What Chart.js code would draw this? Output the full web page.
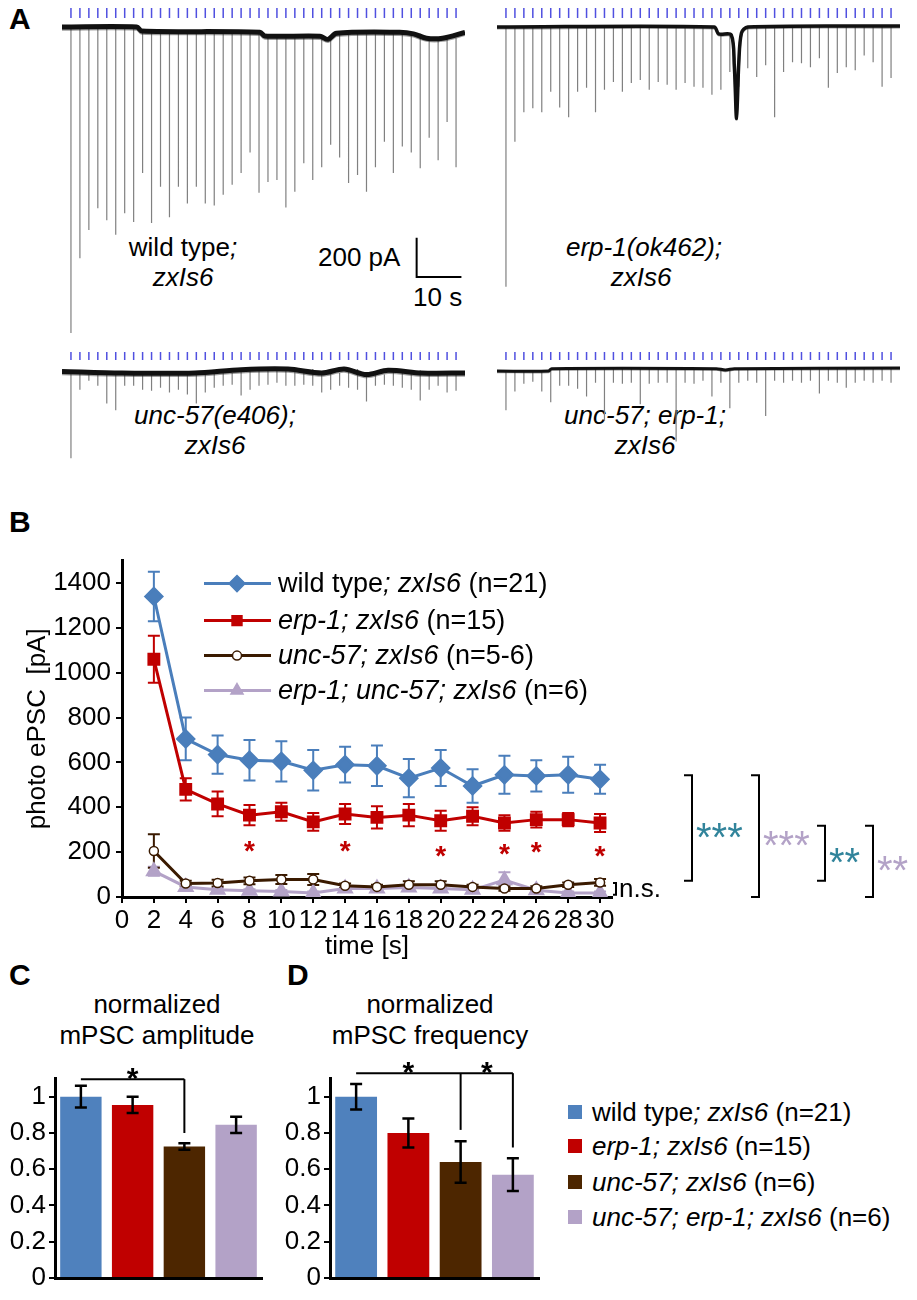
<!DOCTYPE html>
<html>
<head>
<meta charset="utf-8">
<script src="https://cdn.jsdelivr.net/npm/chart.js@4.4.1/dist/chart.umd.min.js"></script>
<style>
body{margin:0;background:#fff;}
#fig{position:relative;width:917px;height:1300px;overflow:hidden;background:#fff;
  font-family:"Liberation Sans",Arial,sans-serif;color:#000;}
canvas{position:absolute;}
.t{position:absolute;font-size:26px;line-height:30px;white-space:nowrap;}
.c{text-align:center;}
.p{position:absolute;font-weight:bold;font-size:30px;line-height:30px;}
.sq{position:absolute;width:14px;height:14px;}
</style>
</head>
<body>
<div id="fig">
  <div class="p" style="left:9px;top:4px">A</div>
  <div class="p" style="left:9px;top:507px">B</div>
  <div class="p" style="left:9px;top:960px">C</div>
  <div class="p" style="left:287px;top:960px">D</div>

  <div class="t c" style="left:108px;top:232px;width:150px">wild type<i>;</i><br><i>zxIs6</i></div>
  <div class="t" style="left:318px;top:242px">200 pA</div>
  <div class="t" style="left:413px;top:282px">10 s</div>
  <div class="t c" style="left:566px;top:232px;width:150px"><i>erp-1(ok462);</i><br><i>zxIs6</i></div>
  <div class="t c" style="left:120px;top:400px;width:190px"><i>unc-57(e406);</i><br><i>zxIs6</i></div>
  <div class="t c" style="left:550px;top:400px;width:190px"><i>unc-57; erp-1;</i><br><i>zxIs6</i></div>

  <div class="t c" style="left:57px;top:989px;width:200px;line-height:31px">normalized<br>mPSC amplitude</div>
  <div class="t c" style="left:330px;top:989px;width:200px;line-height:31px">normalized<br>mPSC frequency</div>

  <div class="sq" style="left:568px;top:1105px;background:#4f81bd"></div>
  <div class="sq" style="left:568px;top:1139px;background:#c00000"></div>
  <div class="sq" style="left:568px;top:1175px;background:#4d2600"></div>
  <div class="sq" style="left:568px;top:1210px;background:#b3a2c7"></div>
  <div class="t" style="left:592px;top:1097px">wild type<i>; zxIs6</i> (n=21)</div>
  <div class="t" style="left:592px;top:1131px"><i>erp-1; zxIs6</i> (n=15)</div>
  <div class="t" style="left:592px;top:1167px"><i>unc-57; zxIs6</i> (n=6)</div>
  <div class="t" style="left:592px;top:1202px"><i>unc-57; erp-1; zxIs6</i> (n=6)</div>
</div>

<script>
// ---- panel A: example traces (stimulus times in s, peak current in pA) ----
const stimTimes = [2,4,6,8,10,12,14,16,18,20,22,24,26,28,30,32,34,36,38,40,42,44,
                   46,48,50,52,54,56,58,60,62,64,66,68,70,72,74,76,78,80,82,84,86,88];
const wtTips  = [1560,1180,1035,925,985,1060,950,995,745,1000,815,970,815,900,815,900,910,855,805,745,640,845,
                 790,780,920,840,695,780,715,600,665,795,755,840,715,585,745,610,640,720,565,680,485,715];
const erpTips = [1325,585,435,415,435,330,410,460,330,310,435,320,280,330,285,270,320,280,295,320,285,305,
                 310,345,320,230,305,210,255,195,460,230,180,185,205,160,310,235,205,220,145,180,305,260];
const uncTips = [435,85,40,65,155,190,65,65,85,90,75,100,85,110,155,100,75,65,60,115,85,65,
                 60,50,65,65,60,65,100,85,65,75,85,145,65,60,65,75,85,140,85,65,100,90];
const dblTips = [200,105,65,55,105,160,75,75,90,130,60,255,60,65,60,170,65,60,60,360,60,65,
                 50,130,60,190,60,50,60,230,50,60,50,60,50,115,50,60,85,60,50,60,50,60];
// baseline drift
const wtDriftT  = [0,16.7,17.8,44.2,45.3,57.6,59.4,61.3,75.4,78.5,81.4,85,90];
const wtDriftV  = [0,0,-20,-27,-46,-47,-63,-32,-27,-35,-57,-57,-27];
const erpDriftT = [0,48.5,49.5,52.3,53.0,53.5,54.0,54.6,56,90];
const erpDriftV = [0,0,-35,-40,-200,-465,-180,-30,0,5];
const uncDriftT = [0,13.3,29.7,40,50.5,58,63,68,72.8,80.3,90];
const uncDriftV = [8,0,0,17,20,0,20,-8,14,0,0];
const dblDriftT = [0,11.5,12.2,49,51,53,90];
const dblDriftV = [0,0,12,12,5,12,15];

// ---- panel B: photo-evoked currents ----
const bTimes  = [2,4,6,8,10,12,14,16,18,20,22,24,26,28,30];
const bTicksX = [0,2,4,6,8,10,12,14,16,18,20,22,24,26,28,30];
const bTicksY = [0,200,400,600,800,1000,1200,1400];
const wtMean  = [1340,705,635,610,605,565,590,585,530,575,495,545,540,545,525];
const wtErr   = [110,95,85,90,90,90,80,90,85,80,75,85,70,80,65];
const erpMean = [1060,480,415,365,380,335,370,355,365,340,360,330,345,345,330];
const erpErr  = [105,50,55,45,40,40,45,50,50,45,40,35,35,30,40];
const uncMean = [205,60,62,72,78,78,50,45,55,55,45,38,38,55,65];
const uncErr  = [75,12,15,15,20,25,10,10,15,15,10,10,10,10,15];
const dblMean = [115,45,32,28,25,18,38,38,42,38,32,75,30,18,18];
const dblErr  = [20,10,8,6,6,6,6,8,8,8,6,35,8,6,6];
const starTimes  = [8,14,20,24,26,30];
const starLevels = [237,237,212,225,231,212];

// ---- panels C and D ----
const groups   = ['wild type; zxIs6','erp-1; zxIs6','unc-57; zxIs6','unc-57; erp-1; zxIs6'];
const barTicks = [0,0.2,0.4,0.6,0.8,1];
const ampMean  = [1.0,0.955,0.725,0.845];
const ampErr   = [0.06,0.045,0.018,0.045];
const freqMean = [1.0,0.80,0.64,0.57];
const freqErr  = [0.07,0.08,0.115,0.09];

const BLUE = '#4a7ebb', RED = '#c00000', BROWN = '#4d2600', LAV = '#b3a2c7', TEAL = '#31849b';
const FONT = '"Liberation Sans", Arial, sans-serif';
Chart.defaults.font.family = FONT;
Chart.defaults.color = '#000';

const fig = document.getElementById('fig');
function canvasAt(l, t, w, h){
  const c = document.createElement('canvas');
  c.width = w; c.height = h;
  c.style.left = l + 'px'; c.style.top = t + 'px';
  c.style.width = w + 'px'; c.style.height = h + 'px';
  fig.appendChild(c);
  return c;
}
const baseOpts = {responsive:false, animation:false, devicePixelRatio:1, events:[],
  plugins:{legend:{display:false}, tooltip:{enabled:false}}};

// traces
const PA_PER_PX = 5.1;
function levelAt(t, driftT, driftV){
  let v = driftV[0];
  for (let i = 0; i < driftT.length; i++) if (driftT[i] <= t) v = driftV[i];
  return v;
}
const scaleBar = {id:'scaleBar', afterDraw(chart, args, o){
  if (!o.show) return;
  const ctx = chart.ctx, xs = chart.scales.x, ys = chart.scales.y;
  const x0 = xs.getPixelForValue(o.t), x1 = xs.getPixelForValue(o.t + o.dt);
  const y0 = ys.getPixelForValue(o.y), y1 = ys.getPixelForValue(o.y + o.dy);
  ctx.save(); ctx.strokeStyle = '#000'; ctx.lineWidth = 2;
  ctx.beginPath(); ctx.moveTo(x0, y1); ctx.lineTo(x0, y0); ctx.lineTo(x1, y0); ctx.stroke();
  ctx.restore();
}};
function trace(o, tips, driftT, driftV, bar){
  const c = canvasAt(o.left, o.top, 403, o.height);
  const yMax = o.baseY * PA_PER_PX, yMin = yMax - o.height * PA_PER_PX;
  const stim = [], spikes = [];
  stimTimes.forEach((t, i) => {
    stim.push({x:t, y:(o.baseY - o.tickBottom) * PA_PER_PX}, {x:t, y:(o.baseY - o.tickTop) * PA_PER_PX}, {x:t, y:null});
    spikes.push({x:t, y:levelAt(t, driftT, driftV)}, {x:t, y:-tips[i]}, {x:t, y:null});
  });
  const base = driftT.map((t, i) => ({x:t, y:driftV[i]}));
  const fuzz = driftT.map((t, i) => ({x:t, y:driftV[i] - o.noise * 2}));
  new Chart(c, {
    type:'line',
    data:{datasets:[
      {data:base, borderColor:'#111', borderWidth:o.noise, pointRadius:0, tension:0.3},
      {data:fuzz, borderColor:'rgba(40,40,40,0.45)', borderWidth:o.noise * 0.7, pointRadius:0, tension:0.3},
      {data:spikes, borderColor:'#808080', borderWidth:1.2, pointRadius:0},
      {data:stim, borderColor:'#5050e0', borderWidth:1.5, pointRadius:0}
    ]},
    options:Object.assign({}, baseOpts, {
      layout:{padding:0, autoPadding:false},
      plugins:{legend:{display:false}, tooltip:{enabled:false}, scaleBar:bar || {show:false}},
      scales:{x:{type:'linear', display:false, min:0, max:90},
              y:{display:false, min:yMin, max:yMax}}
    }),
    plugins:[scaleBar]
  });
}
trace({left:62, top:0, height:345, baseY:27, tickTop:8, tickBottom:18, noise:5}, wtTips, wtDriftT, wtDriftV,
      {show:true, t:79.2, y:-1275, dt:10, dy:200});
trace({left:497, top:0, height:345, baseY:27, tickTop:8, tickBottom:18, noise:3.5}, erpTips, erpDriftT, erpDriftV);
trace({left:62, top:340, height:125, baseY:33, tickTop:12, tickBottom:20, noise:5}, uncTips, uncDriftT, uncDriftV);
trace({left:497, top:340, height:125, baseY:31, tickTop:12, tickBottom:20, noise:3}, dblTips, dblDriftT, dblDriftV);

// panel B
function marker(ctx, style, x, y, r, fill, stroke){
  ctx.save(); ctx.fillStyle = fill; ctx.strokeStyle = stroke; ctx.lineWidth = 1.5;
  ctx.beginPath();
  if (style === 'rectRot'){ ctx.moveTo(x, y - r); ctx.lineTo(x + r, y); ctx.lineTo(x, y + r); ctx.lineTo(x - r, y); }
  else if (style === 'rect'){ const s = r * Math.SQRT1_2; ctx.rect(x - s, y - s, 2 * s, 2 * s); }
  else if (style === 'triangle'){ ctx.moveTo(x, y - r); ctx.lineTo(x + r * 0.866, y + r * 0.5); ctx.lineTo(x - r * 0.866, y + r * 0.5); }
  else { ctx.arc(x, y, r, 0, Math.PI * 2); }
  ctx.closePath(); ctx.fill(); ctx.stroke(); ctx.restore();
}
function richText(ctx, x, y, parts, size){
  parts.forEach(([s, it]) => {
    ctx.font = (it ? 'italic ' : '') + size + 'px ' + FONT;
    ctx.fillText(s, x, y);
    x += ctx.measureText(s).width;
  });
}
const legendB = [
  [['wild type', 0], [';', 1], [' zxIs6', 1], [' (n=21)', 0]],
  [['erp-1; zxIs6', 1], [' (n=15)', 0]],
  [['unc-57; zxIs6', 1], [' (n=5-6)', 0]],
  [['erp-1; unc-57; zxIs6', 1], [' (n=6)', 0]]
];
const sigB = [
  {x:692, from:543, to:72, color:TEAL, text:'***'},
  {x:759, from:543, to:0,  color:LAV,  text:'***'},
  {x:825, from:318, to:72, color:TEAL, text:'**'},
  {x:873, from:318, to:0,  color:LAV,  text:'**'}
];
const bExtras = {id:'bExtras',
  beforeDatasetsDraw(chart){
    const ctx = chart.ctx, xs = chart.scales.x, ys = chart.scales.y;
    chart.data.datasets.slice().reverse().forEach(ds => {
      ctx.save(); ctx.strokeStyle = ds.borderColor; ctx.lineWidth = 2;
      ds.data.forEach((p, i) => {
        const x = xs.getPixelForValue(p.x);
        const y1 = ys.getPixelForValue(p.y + ds.errors[i]), y2 = ys.getPixelForValue(p.y - ds.errors[i]);
        ctx.beginPath();
        ctx.moveTo(x, y1); ctx.lineTo(x, y2);
        ctx.moveTo(x - 6, y1); ctx.lineTo(x + 6, y1);
        ctx.moveTo(x - 6, y2); ctx.lineTo(x + 6, y2);
        ctx.stroke();
      });
      ctx.restore();
    });
  },
  afterDraw(chart){
    const ctx = chart.ctx, xs = chart.scales.x, ys = chart.scales.y, top = chart.chartArea.top;
    // legend
    const rows = [23, 60, 95, 130];
    chart.data.datasets.forEach((ds, i) => {
      const y = top + rows[i];
      ctx.save(); ctx.strokeStyle = ds.borderColor; ctx.lineWidth = 3;
      ctx.beginPath(); ctx.moveTo(204, y); ctx.lineTo(271, y); ctx.stroke(); ctx.restore();
      marker(ctx, ds.pointStyle, 237, y, ds.pointRadius, ds.pointBackgroundColor, ds.borderColor);
      ctx.fillStyle = '#000'; ctx.textBaseline = 'middle'; ctx.textAlign = 'left';
      richText(ctx, 278, y + 1, legendB[i], 27);
    });
    // red stars
    ctx.save(); ctx.fillStyle = RED; ctx.font = 'bold 28px ' + FONT;
    ctx.textAlign = 'center'; ctx.textBaseline = 'alphabetic';
    starTimes.forEach((t, i) => ctx.fillText('*', xs.getPixelForValue(t), ys.getPixelForValue(starLevels[i]) + 16));
    ctx.restore();
    // n.s.
    ctx.save(); ctx.strokeStyle = '#000'; ctx.lineWidth = 2;
    const nx = xs.right + 4, na = ys.getPixelForValue(62), nb = ys.getPixelForValue(10);
    ctx.beginPath(); ctx.moveTo(nx - 3, na); ctx.lineTo(nx, na); ctx.lineTo(nx, nb); ctx.lineTo(nx - 3, nb); ctx.stroke();
    ctx.fillStyle = '#000'; ctx.font = '26px ' + FONT; ctx.textBaseline = 'middle';
    ctx.fillText('n.s.', nx + 3, (na + nb) / 2 + 1);
    // comparison brackets
    sigB.forEach(s => {
      const a = ys.getPixelForValue(s.from), b = ys.getPixelForValue(s.to);
      ctx.strokeStyle = '#000'; ctx.lineWidth = 2;
      ctx.beginPath(); ctx.moveTo(s.x - 8, a); ctx.lineTo(s.x, a); ctx.lineTo(s.x, b); ctx.lineTo(s.x - 8, b); ctx.stroke();
      ctx.fillStyle = s.color; ctx.font = '40px ' + FONT; ctx.textBaseline = 'alphabetic'; ctx.textAlign = 'left';
      ctx.fillText(s.text, s.x + 4, (a + b) / 2 + 23);
    });
    ctx.restore();
  }
};
const pts = (m) => bTimes.map((t, i) => ({x:t, y:m[i]}));
new Chart(canvasAt(0, 540, 917, 430), {
  type:'line',
  data:{datasets:[
    {data:pts(wtMean), errors:wtErr, borderColor:BLUE, pointBackgroundColor:BLUE, pointBorderColor:BLUE,
     borderWidth:3, pointStyle:'rectRot', pointRadius:8},
    {data:pts(erpMean), errors:erpErr, borderColor:RED, pointBackgroundColor:RED, pointBorderColor:RED,
     borderWidth:3, pointStyle:'rect', pointRadius:7},
    {data:pts(uncMean), errors:uncErr, borderColor:'#3a1a00', pointBackgroundColor:'#fff', pointBorderColor:'#3a1a00',
     borderWidth:3, pointStyle:'circle', pointRadius:4.5, pointBorderWidth:1.5},
    {data:pts(dblMean), errors:dblErr, borderColor:LAV, pointBackgroundColor:LAV, pointBorderColor:LAV,
     borderWidth:3, pointStyle:'triangle', pointRadius:7}
  ]},
  options:Object.assign({}, baseOpts, {
    layout:{padding:{top:17, right:305, left:0, bottom:0}},
    scales:{
      x:{type:'linear', min:0, max:30.75,
         afterBuildTicks:s => { s.ticks = bTicksX.map(v => ({value:v})); },
         afterFit:s => { s.height = 73; },
         ticks:{autoSkip:false, maxRotation:0, padding:2, font:{size:26}, color:'#000', callback:v => String(v)},
         grid:{drawOnChartArea:false, tickLength:6, color:'#000', lineWidth:2},
         border:{color:'#000', width:3},
         title:{display:true, text:'time [s]', font:{size:26}, padding:8, color:'#000'}},
      y:{min:0, max:1500,
         afterBuildTicks:s => { s.ticks = bTicksY.map(v => ({value:v})); },
         afterFit:s => { s.width = 122; },
         ticks:{padding:5, font:{size:26}, color:'#000', callback:v => String(v)},
         grid:{drawOnChartArea:false, tickLength:6, color:'#000', lineWidth:2},
         border:{color:'#000', width:3},
         title:{display:true, text:'photo ePSC  [pA]', font:{size:26}, padding:22, color:'#000'}}
    }
  }),
  plugins:[bExtras]
});

// panels C and D
const barExtras = {id:'barExtras', afterDatasetsDraw(chart, args, o){
  const ctx = chart.ctx, ys = chart.scales.y, meta = chart.getDatasetMeta(0), ds = chart.data.datasets[0];
  ctx.save(); ctx.strokeStyle = '#000'; ctx.lineWidth = 2.5;
  meta.data.forEach((bar, i) => {
    const y1 = ys.getPixelForValue(ds.data[i] + ds.errors[i]), y2 = ys.getPixelForValue(ds.data[i] - ds.errors[i]);
    ctx.beginPath();
    ctx.moveTo(bar.x, y1); ctx.lineTo(bar.x, y2);
    ctx.moveTo(bar.x - 6, y1); ctx.lineTo(bar.x + 6, y1);
    ctx.moveTo(bar.x - 6, y2); ctx.lineTo(bar.x + 6, y2);
    ctx.stroke();
  });
  const yl = ys.getPixelForValue(o.level);
  ctx.lineWidth = 2;
  ctx.beginPath(); ctx.moveTo(meta.data[o.from].x, yl); ctx.lineTo(meta.data[o.to].x, yl); ctx.stroke();
  o.drops.forEach(([cat, v]) => {
    ctx.beginPath(); ctx.moveTo(meta.data[cat].x, yl); ctx.lineTo(meta.data[cat].x, ys.getPixelForValue(v)); ctx.stroke();
  });
  ctx.fillStyle = '#000'; ctx.font = 'bold 30px ' + FONT; ctx.textAlign = 'center'; ctx.textBaseline = 'alphabetic';
  o.stars.forEach(([a, b]) => ctx.fillText('*', (meta.data[a].x + meta.data[b].x) / 2, yl - 8 + 17));
  ctx.restore();
}};
function barChart(left, axisW, padRight, values, errs, sig){
  new Chart(canvasAt(left, 1060, 280, 240), {
    type:'bar',
    data:{labels:groups, datasets:[{data:values, errors:errs,
      backgroundColor:['#4f81bd', RED, BROWN, LAV], categoryPercentage:1, barPercentage:0.8}]},
    options:Object.assign({}, baseOpts, {
      layout:{padding:{top:13, right:padRight, left:0, bottom:0}},
      plugins:{legend:{display:false}, tooltip:{enabled:false}, barExtras:sig},
      scales:{
        x:{ticks:{display:false}, grid:{display:false}, afterFit:s => { s.height = 22; },
           border:{color:'#000', width:3}},
        y:{min:0, max:1.1, afterFit:s => { s.width = axisW; },
           afterBuildTicks:s => { s.ticks = barTicks.map(v => ({value:v})); },
           ticks:{padding:3, font:{size:26}, color:'#000', callback:v => String(v)},
           grid:{drawOnChartArea:false, tickLength:6, color:'#000', lineWidth:2},
           border:{color:'#000', width:3}}
      }
    }),
    plugins:[barExtras]
  });
}
barChart(0, 55, 18, ampMean, ampErr, {level:1.097, from:0, to:2, drops:[[2, 0.80]], stars:[[0, 2]]});
barChart(280, 50, 21, freqMean, freqErr, {level:1.13, from:0, to:3, drops:[[2, 0.817], [3, 0.72]], stars:[[0, 2], [2, 3]]});
</script>
</body>
</html>
